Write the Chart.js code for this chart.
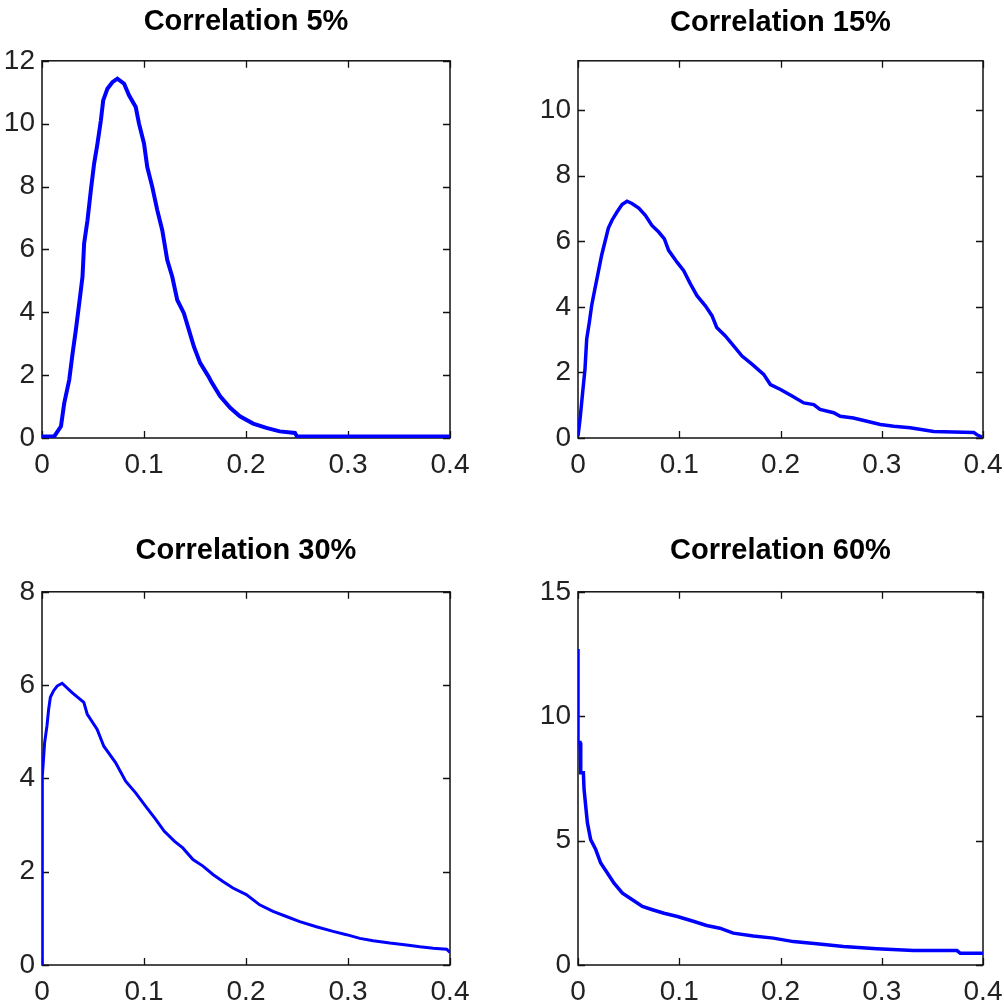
<!DOCTYPE html>
<html><head><meta charset="utf-8">
<script src="https://cdn.jsdelivr.net/npm/chart.js@4/dist/chart.umd.min.js"></script>
<style>
html,body{margin:0;padding:0;background:#fff;overflow:hidden;width:1004px;height:1002px;}
.p{position:absolute;}
</style></head><body>
<div class="p" style="left:0;top:0;width:500px;height:500px"><canvas id="c1"></canvas></div>
<div class="p" style="left:500px;top:0;width:504px;height:500px"><canvas id="c2"></canvas></div>
<div class="p" style="left:0;top:500px;width:500px;height:502px"><canvas id="c3"></canvas></div>
<div class="p" style="left:500px;top:500px;width:504px;height:502px"><canvas id="c4"></canvas></div>
<script>
// ---- data ----
const titles = ['Correlation 5%', 'Correlation 15%', 'Correlation 30%', 'Correlation 60%'];
const xTicks = [0, 0.1, 0.2, 0.3, 0.4];
const xTickLabels = ['0', '0.1', '0.2', '0.3', '0.4'];
const yMax = [12, 11.5, 8, 15];
const yTicks1 = [0, 2, 4, 6, 8, 10, 12];
const yTicks2 = [0, 2, 4, 6, 8, 10];
const yTicks3 = [0, 2, 4, 6, 8];
const yTicks4 = [0, 5, 10, 15];

const x1 = [0, 0.012, 0.0186, 0.0218, 0.0267, 0.030, 0.0332, 0.0365, 0.0397, 0.0413, 0.0446, 0.0479, 0.0511, 0.0544, 0.0577, 0.060, 0.0641, 0.069, 0.0739, 0.0805, 0.0853, 0.0919, 0.0951, 0.100, 0.1032, 0.1081, 0.113, 0.1179, 0.1228, 0.1277, 0.1326, 0.1391, 0.144, 0.1489, 0.155, 0.163, 0.1665, 0.1747, 0.1845, 0.194, 0.207, 0.220, 0.233, 0.248, 0.250, 0.400];
const y1 = [0.05, 0.05, 0.37, 1.11, 1.85, 2.70, 3.44, 4.29, 5.13, 6.19, 6.93, 7.88, 8.73, 9.37, 10.1, 10.74, 11.11, 11.32, 11.43, 11.27, 10.90, 10.53, 10.0, 9.37, 8.62, 7.99, 7.25, 6.61, 5.66, 5.13, 4.39, 3.97, 3.44, 2.91, 2.39, 1.97, 1.76, 1.33, 0.96, 0.69, 0.46, 0.32, 0.21, 0.16, 0.05, 0.05];

const x2 = [0, 0.002, 0.0046, 0.0069, 0.0086, 0.0112, 0.0135, 0.0168, 0.0201, 0.0234, 0.0267, 0.030, 0.0336, 0.0385, 0.0435, 0.0484, 0.0533, 0.060, 0.0665, 0.073, 0.0797, 0.0853, 0.0895, 0.0978, 0.1044, 0.111, 0.1175, 0.1258, 0.1323, 0.137, 0.1455, 0.1537, 0.162, 0.1718, 0.1834, 0.19, 0.20, 0.2114, 0.223, 0.2328, 0.239, 0.2525, 0.259, 0.272, 0.2854, 0.2986, 0.3118, 0.328, 0.3513, 0.371, 0.3908, 0.394, 0.399];
const y2 = [0.06, 0.57, 1.39, 2.10, 3.02, 3.53, 4.04, 4.56, 5.07, 5.58, 5.99, 6.40, 6.64, 6.89, 7.12, 7.22, 7.15, 7.01, 6.79, 6.48, 6.28, 6.07, 5.72, 5.36, 5.10, 4.70, 4.34, 4.03, 3.73, 3.37, 3.11, 2.81, 2.50, 2.25, 1.94, 1.63, 1.48, 1.28, 1.07, 1.02, 0.87, 0.77, 0.66, 0.61, 0.51, 0.41, 0.36, 0.31, 0.20, 0.18, 0.17, 0.10, 0.03];

const x3 = [0, 0, 0.0006, 0.0026, 0.0049, 0.0065, 0.0082, 0.0114, 0.0148, 0.0197, 0.0295, 0.041, 0.0443, 0.0541, 0.0606, 0.0721, 0.082, 0.0918, 0.1017, 0.1115, 0.1197, 0.13, 0.138, 0.148, 0.1578, 0.1676, 0.1774, 0.1872, 0.2003, 0.2134, 0.2265, 0.2396, 0.2527, 0.269, 0.2854, 0.2985, 0.3116, 0.3247, 0.341, 0.3574, 0.3705, 0.3836, 0.3967, 0.4];
const y3 = [0, 2.97, 4.05, 4.77, 5.13, 5.48, 5.74, 5.88, 5.98, 6.04, 5.84, 5.63, 5.38, 5.05, 4.69, 4.34, 3.94, 3.69, 3.40, 3.12, 2.87, 2.65, 2.51, 2.26, 2.12, 1.94, 1.79, 1.65, 1.51, 1.29, 1.15, 1.04, 0.93, 0.82, 0.72, 0.65, 0.57, 0.52, 0.47, 0.43, 0.39, 0.36, 0.34, 0.27];

const x4 = [0, 0, 0.002, 0.0027, 0.0053, 0.006, 0.0076, 0.0093, 0.0125, 0.0175, 0.0224, 0.029, 0.0356, 0.0439, 0.0537, 0.0636, 0.0735, 0.085, 0.0982, 0.1146, 0.127, 0.1401, 0.1533, 0.1731, 0.1929, 0.2127, 0.2358, 0.2622, 0.2951, 0.3314, 0.3743, 0.3776, 0.4];
const y4 = [12.7, 8.94, 8.94, 7.73, 7.73, 7.06, 6.39, 5.71, 5.04, 4.64, 4.10, 3.70, 3.29, 2.89, 2.62, 2.35, 2.22, 2.08, 1.95, 1.75, 1.59, 1.48, 1.28, 1.17, 1.08, 0.94, 0.85, 0.74, 0.65, 0.58, 0.58, 0.47, 0.47];

// ---- rendering ----
const FONT = "'Liberation Sans', Arial, sans-serif";
const boxPlugin = {
  id: 'matBox',
  beforeDatasetsDraw(chart) {
    const {ctx, chartArea: a, scales: {x, y}} = chart;
    ctx.save();
    ctx.strokeStyle = '#111';
    ctx.lineWidth = 1.5;
    ctx.strokeRect(a.left, a.top, a.right - a.left, a.bottom - a.top);
    ctx.lineWidth = 1.3;
    const L = 7;
    ctx.beginPath();
    x.ticks.forEach(t => {
      const px = Math.round(x.getPixelForValue(t.value)) + 0.5;
      ctx.moveTo(px, a.bottom); ctx.lineTo(px, a.bottom - L);
      ctx.moveTo(px, a.top); ctx.lineTo(px, a.top + L);
    });
    y.ticks.forEach(t => {
      const py = Math.round(y.getPixelForValue(t.value)) + 0.5;
      ctx.moveTo(a.left, py); ctx.lineTo(a.left + L, py);
      ctx.moveTo(a.right, py); ctx.lineTo(a.right - L, py);
    });
    ctx.stroke();
    ctx.restore();
  }
};

function zeroPad(s) { s.paddingLeft = 0; s.paddingRight = 0; s.paddingTop = 0; s.paddingBottom = 0; }

function makeChart(id, title, xs, ys, ymax, yticks, lw, cfg) {
  const pts = xs.map((v, i) => ({x: v, y: ys[i]}));
  return new Chart(document.getElementById(id), {
    type: 'line',
    data: { datasets: [{ data: pts, borderColor: '#0000ff', borderWidth: lw, pointRadius: 0, tension: 0, fill: false }] },
    plugins: [boxPlugin],
    options: {
      responsive: true, maintainAspectRatio: false, animation: false,
      layout: { padding: { left: 0, right: cfg.padRight, top: 0, bottom: 0 } },
      plugins: {
        legend: { display: false }, tooltip: { enabled: false },
        title: { display: true, text: title, fullSize: false, color: '#000',
          font: { family: FONT, size: 29, weight: 'bold', lineHeight: 1.2 },
          padding: { top: cfg.tTop, bottom: cfg.tBot } }
      },
      scales: {
        x: { type: 'linear', min: 0, max: 0.4,
          afterBuildTicks: s => { s.ticks = xTicks.map(v => ({value: v})); },
          afterFit: s => { s.height = cfg.xH; zeroPad(s); },
          grid: { display: false, drawTicks: false }, border: { display: false },
          ticks: { padding: 10, color: '#222', font: { family: FONT, size: 28 }, maxRotation: 0,
            callback: (v) => { const i = xTicks.indexOf(v); return i >= 0 ? xTickLabels[i] : ''; } } },
        y: { type: 'linear', min: 0, max: ymax,
          afterBuildTicks: s => { s.ticks = yticks.map(v => ({value: v})); },
          afterFit: s => { s.width = cfg.yW; zeroPad(s); },
          grid: { display: false, drawTicks: false }, border: { display: false },
          ticks: { padding: 7, color: '#222', font: { family: FONT, size: 28 },
            callback: (v) => String(v) } }
      }
    }
  });
}

makeChart('c1', titles[0], x1, y1, yMax[0], yTicks1, 4,   {padRight: 50, yW: 42, xH: 62, tTop: 5,  tBot: 21});
makeChart('c2', titles[1], x2, y2, yMax[1], yTicks2, 3.5, {padRight: 21, yW: 78, xH: 62, tTop: 6,  tBot: 20});
makeChart('c3', titles[2], x3, y3, yMax[2], yTicks3, 3,   {padRight: 50, yW: 42, xH: 37, tTop: 34, tBot: 23});
makeChart('c4', titles[3], x4, y4, yMax[3], yTicks4, 3.5, {padRight: 21, yW: 78, xH: 37, tTop: 34, tBot: 23});
</script>
</body></html>
